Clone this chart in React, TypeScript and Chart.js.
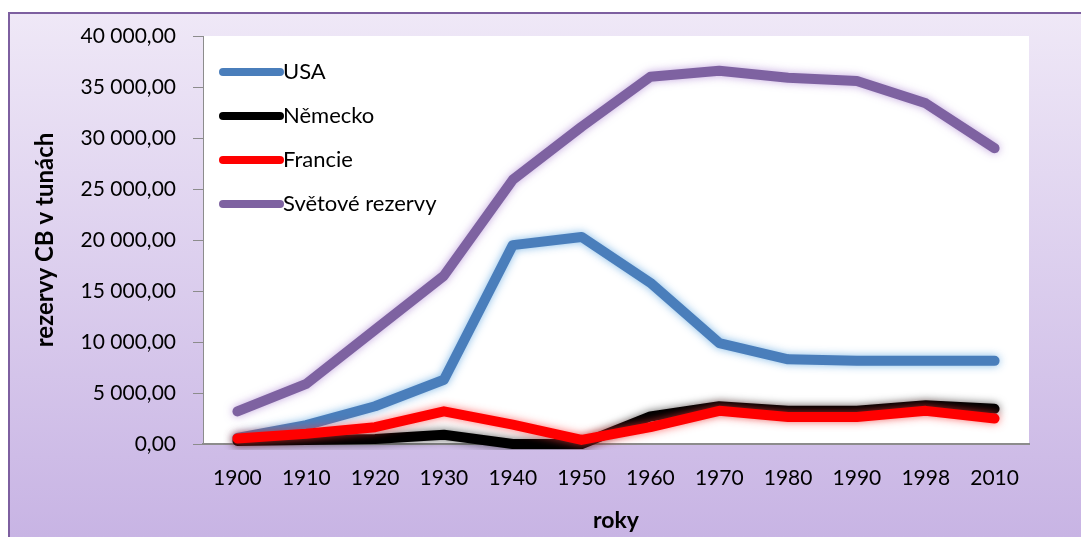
import React, { useEffect, useRef } from "react";
import { Chart, registerables } from "chart.js";

Chart.register(...registerables);

const years = ["1900", "1910", "1920", "1930", "1940", "1950", "1960", "1970", "1980", "1990", "1998", "2010"];
const usa = [600, 1850, 3700, 6300, 19500, 20300, 15800, 9900, 8300, 8150, 8150, 8150];
const nemecko = [300, 400, 500, 900, 0, 0, 2700, 3700, 3250, 3250, 3800, 3450];
const francie = [550, 1000, 1650, 3200, 1900, 400, 1650, 3250, 2650, 2650, 3250, 2500];
const svetove = [3200, 5900, 11200, 16500, 25900, 31100, 36000, 36600, 35900, 35600, 33400, 29000];
const yTicks = [0, 5000, 10000, 15000, 20000, 25000, 30000, 35000, 40000];

const FONT = "Lato";

const fmt = (v: number) => {
  const s = Math.round(v).toString().replace(/\B(?=(\d{3})+(?!\d))/g, " ");
  return s + ",00";
};

const glow: Record<string, string> = {
  USA: "rgba(120,180,230,0.9)",
  "Německo": "rgba(0,0,0,0.6)",
  Francie: "rgba(255,60,60,0.7)",
  "Světové rezervy": "rgba(170,130,210,0.7)",
};

const bgPlugin = {
  id: "bg",
  beforeDraw(chart: any) {
    const { ctx, width, height, chartArea } = chart;
    ctx.save();
    const g = ctx.createLinearGradient(0, 12, 0, height);
    g.addColorStop(0, "#efe8f7");
    g.addColorStop(1, "#c8b4e4");
    ctx.fillStyle = g;
    ctx.fillRect(8, 12, width - 8, height - 12);
    ctx.strokeStyle = "#7d5fa0";
    ctx.lineWidth = 2;
    ctx.beginPath();
    ctx.moveTo(9, height);
    ctx.lineTo(9, 13);
    ctx.lineTo(width, 13);
    ctx.stroke();
    ctx.fillStyle = "#ffffff";
    ctx.fillRect(chartArea.left, chartArea.top, chartArea.right - chartArea.left, chartArea.bottom - chartArea.top);
    ctx.restore();
  },
  beforeDatasetDraw(chart: any, args: any) {
    const ds = chart.data.datasets[args.index];
    const ctx = chart.ctx;
    ctx.save();
    ctx.shadowColor = glow[ds.label] || "transparent";
    ctx.shadowBlur = 8;
  },
  afterDatasetDraw(chart: any) {
    chart.ctx.restore();
  },
  afterDraw(chart: any) {
    const { ctx, chartArea } = chart;
    const items = chart.data.datasets;
    ctx.save();
    ctx.font = `22px ${FONT}`;
    ctx.textBaseline = "middle";
    items.forEach((ds: any, i: number) => {
      const y = chartArea.top + 36 + i * 44;
      const x0 = chartArea.left + 20;
      ctx.strokeStyle = ds.borderColor;
      ctx.lineWidth = 8;
      ctx.lineCap = "round";
      ctx.beginPath();
      ctx.moveTo(x0, y);
      ctx.lineTo(x0 + 57, y);
      ctx.stroke();
      ctx.fillStyle = "#000";
      ctx.fillText(ds.label, x0 + 60, y);
    });
    ctx.restore();
  },
};

export default function App() {
  const ref = useRef<HTMLCanvasElement>(null);
  useEffect(() => {
    document.body.style.margin = "0";
    const mk = (label: string, data: number[], color: string, order: number) => ({
      label,
      data,
      borderColor: color,
      backgroundColor: color,
      borderWidth: 10,
      pointRadius: 0,
      borderCapStyle: "round" as const,
      borderJoinStyle: "round" as const,
      tension: 0,
      order,
      clip: 6,
    });
    const chart = new Chart(ref.current!, {
      type: "line",
      data: {
        labels: years,
        datasets: [
          mk("USA", usa, "#4a7ebb", 4),
          mk("Německo", nemecko, "#000000", 3),
          mk("Francie", francie, "#ff0000", 2),
          mk("Světové rezervy", svetove, "#7e62a1", 1),
        ],
      },
      options: {
        animation: false,
        responsive: false,
        devicePixelRatio: 1,
        layout: { padding: { left: 10, top: 36, right: 52, bottom: 0 } },
        plugins: { legend: { display: false }, tooltip: { enabled: false } },
        scales: {
          x: {
            offset: true,
            grid: { display: false, drawTicks: false },
            border: { color: "#8c8c8c", width: 2 },
            ticks: { color: "#000", font: { family: FONT, size: 21 }, padding: 22, maxRotation: 0 },
            title: { display: true, text: "roky", color: "#000", font: { family: FONT, size: 23, weight: "bold" }, padding: { top: 14, bottom: 3 } },
            afterFit: (s: any) => { s.height = 93; },
          },
          y: {
            min: 0,
            max: 40000,
            afterBuildTicks: (s: any) => { s.ticks = yTicks.map((v) => ({ value: v })); },
            grid: { drawOnChartArea: false, drawTicks: true, tickLength: 10, color: "#8c8c8c" },
            border: { color: "#8c8c8c", width: 1 },
            ticks: { color: "#000", font: { family: FONT, size: 21 }, padding: 17, callback: (v: any) => fmt(Number(v)) },
            title: { display: true, text: "rezervy CB v tunách", color: "#000", font: { family: FONT, size: 24, weight: "bold" }, padding: { top: 21, bottom: 6 } },
            afterFit: (s: any) => { s.width = 193; },
          },
        },
      },
      plugins: [bgPlugin],
    });
    return () => chart.destroy();
  }, []);
  return <canvas ref={ref} width={1081} height={537} style={{ display: "block" }} />;
}
